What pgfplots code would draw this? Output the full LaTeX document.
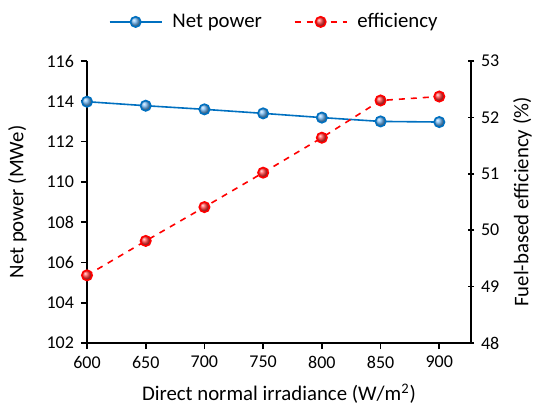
\documentclass[border=0pt]{standalone}
\usepackage{pgfplots}
\pgfplotsset{compat=1.18}
\usepackage{fontspec}
\setmainfont{Carlito}
\definecolor{netblue}{RGB}{0,112,192}
\definecolor{ballblue}{RGB}{110,180,240}
\definecolor{effred}{RGB}{255,0,0}
\definecolor{ballred}{RGB}{255,60,60}
\begin{document}
\begin{tikzpicture}
\pgfplotsset{every axis/.append style={scale only axis, width=192pt, height=141pt,
  xmin=600, xmax=927, font=\fontsize{9}{11}\selectfont,
  axis line style={line width=0.8pt}, major tick style={line width=0.8pt, black},
  major tick length=3pt, /pgf/number format/assume math mode=true,
  label style={font=\fontsize{10.4}{12}\selectfont}}}
\begin{axis}[name=ax1, axis y line*=left, axis x line*=bottom,
  ymin=102, ymax=116, ytick={102,104,...,116}, xtick={600,650,...,900},
  tick align=outside,
  ylabel={Net power (MWe)}, ylabel style={yshift=3pt},
  xlabel={Direct normal irradiance (W/m\textsuperscript{2})}, xlabel style={yshift=-1pt}]
\addplot[netblue, line width=0.8pt, mark=ball, mark size=2.6pt, mark options={ball color=ballblue}]
 coordinates {(600,113.98) (650,113.78) (700,113.6) (750,113.4) (800,113.19) (850,113.0) (900,112.97)};
\end{axis}
\begin{axis}[axis y line*=right, axis x line=none,
  ymin=48, ymax=53, ytick={48,...,53}, tick align=center,
  ylabel={Fuel-based efficiency (\%)},
  legend style={at={(0.49,1.0)}, anchor=south, yshift=11pt, draw=none, legend columns=2,
    font=\fontsize{10.4}{12}\selectfont,
    /tikz/every odd column/.append style={column sep=3pt},
    /tikz/every even column/.append style={column sep=14pt}},
  legend image code/.code={\draw[#1, mark repeat=2, mark phase=2] plot coordinates {(0pt,0pt) (13pt,0pt) (26pt,0pt)};},
  legend cell align=left]
\addlegendimage{netblue, line width=0.8pt, mark=ball, mark size=2.6pt, mark options={ball color=ballblue}}
\addlegendentry{Net power}
\addplot[effred, dashed, line width=0.8pt, mark=ball, mark size=2.6pt, mark options={ball color=ballred, solid}]
 coordinates {(600,49.2) (650,49.81) (700,50.41) (750,51.02) (800,51.64) (850,52.3) (900,52.37)};
\addlegendentry{efficiency}
\end{axis}
\pgfresetboundingbox
\path (ax1.south west) ++(-43.5pt,-32.5pt) rectangle ++(267.5pt,204pt);
\end{tikzpicture}
\end{document}
